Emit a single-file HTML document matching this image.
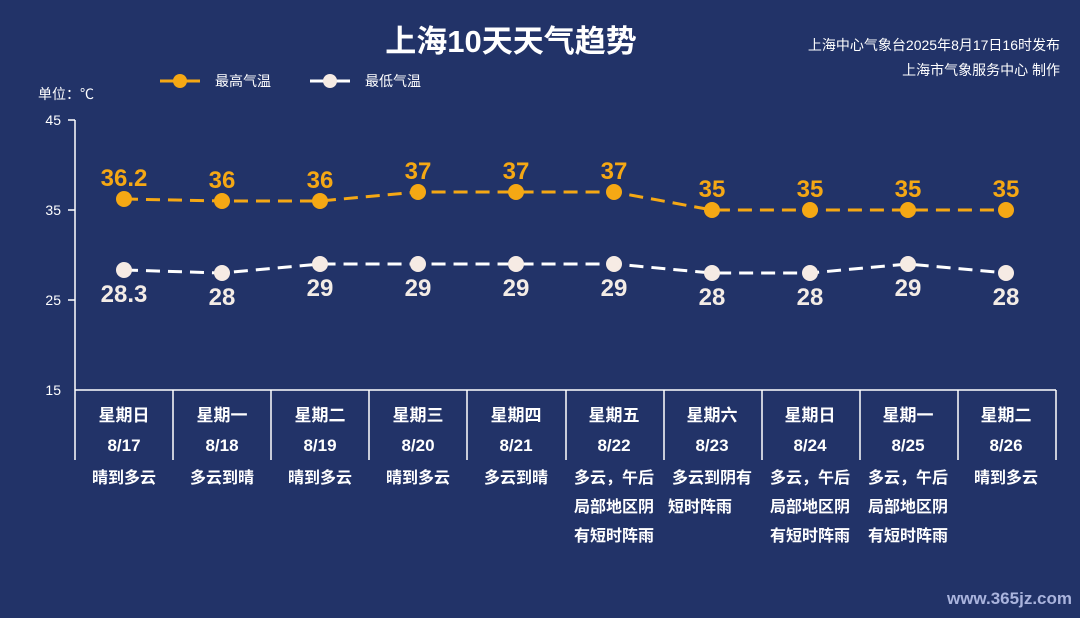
<!DOCTYPE html>
<html><head><meta charset="utf-8"><style>
body{margin:0;background:#223368;}
svg text{font-family:"Liberation Sans","Noto Sans CJK SC",sans-serif;}
</style></head><body>
<svg width="1080" height="613" viewBox="0 0 1080 613" xmlns="http://www.w3.org/2000/svg">
<rect width="1080" height="613" fill="#223368"/>
<text x="511" y="52" fill="#fff" font-size="31" font-weight="bold" text-anchor="middle">上海10天天气趋势</text>
<text x="1060" y="50" fill="#fff" font-size="14" text-anchor="end">上海中心气象台2025年8月17日16时发布</text>
<text x="1060" y="75" fill="#fff" font-size="14" text-anchor="end">上海市气象服务中心 制作</text>
<line x1="160" y1="81" x2="200" y2="81" stroke="#f5a814" stroke-width="3"/><circle cx="180" cy="81" r="7" fill="#f5a814"/>
<text x="215" y="86" fill="#fff" font-size="14">最高气温</text>
<line x1="310" y1="81" x2="350" y2="81" stroke="#fff" stroke-width="3"/><circle cx="330" cy="81" r="7" fill="#f6ebe4"/>
<text x="365" y="86" fill="#fff" font-size="14">最低气温</text>
<text x="38" y="99" fill="#fff" font-size="14">单位：℃</text>
<g stroke="#fff" stroke-width="1.5">
<line x1="75" y1="120" x2="75" y2="460"/>
<line x1="68" y1="120" x2="75" y2="120"/><line x1="68" y1="210" x2="75" y2="210"/><line x1="68" y1="300" x2="75" y2="300"/>
<line x1="75" y1="390" x2="1056" y2="390"/>
<line x1="173" y1="390" x2="173" y2="460"/><line x1="271" y1="390" x2="271" y2="460"/><line x1="369" y1="390" x2="369" y2="460"/><line x1="467" y1="390" x2="467" y2="460"/><line x1="566" y1="390" x2="566" y2="460"/><line x1="664" y1="390" x2="664" y2="460"/><line x1="762" y1="390" x2="762" y2="460"/><line x1="860" y1="390" x2="860" y2="460"/><line x1="958" y1="390" x2="958" y2="460"/><line x1="1056" y1="390" x2="1056" y2="460"/>
</g>
<g fill="#fff" font-size="14" text-anchor="end"><text x="61" y="125">45</text><text x="61" y="215">35</text><text x="61" y="305">25</text><text x="61" y="395">15</text></g>
<polyline points="124,199 222,201 320,201 418,192 516,192 614,192 712,210 810,210 908,210 1006,210" fill="none" stroke="#f5a814" stroke-width="3" stroke-dasharray="14,8"/>
<polyline points="124,270 222,273 320,264 418,264 516,264 614,264 712,273 810,273 908,264 1006,273" fill="none" stroke="#fff" stroke-width="3" stroke-dasharray="14,8"/>
<g fill="#f5a814">
<circle cx="124" cy="199" r="8"/><circle cx="222" cy="201" r="8"/><circle cx="320" cy="201" r="8"/><circle cx="418" cy="192" r="8"/><circle cx="516" cy="192" r="8"/><circle cx="614" cy="192" r="8"/><circle cx="712" cy="210" r="8"/><circle cx="810" cy="210" r="8"/><circle cx="908" cy="210" r="8"/><circle cx="1006" cy="210" r="8"/>
</g>
<g fill="#f6ebe4">
<circle cx="124" cy="270" r="8"/><circle cx="222" cy="273" r="8"/><circle cx="320" cy="264" r="8"/><circle cx="418" cy="264" r="8"/><circle cx="516" cy="264" r="8"/><circle cx="614" cy="264" r="8"/><circle cx="712" cy="273" r="8"/><circle cx="810" cy="273" r="8"/><circle cx="908" cy="264" r="8"/><circle cx="1006" cy="273" r="8"/>
</g>
<g fill="#f5a814" font-size="24" font-weight="bold" text-anchor="middle">
<text x="124" y="186">36.2</text><text x="222" y="188">36</text><text x="320" y="188">36</text><text x="418" y="179">37</text><text x="516" y="179">37</text><text x="614" y="179">37</text><text x="712" y="197">35</text><text x="810" y="197">35</text><text x="908" y="197">35</text><text x="1006" y="197">35</text>
</g>
<g fill="#f3ece6" font-size="24" font-weight="bold" text-anchor="middle">
<text x="124" y="302">28.3</text><text x="222" y="305">28</text><text x="320" y="296">29</text><text x="418" y="296">29</text><text x="516" y="296">29</text><text x="614" y="296">29</text><text x="712" y="305">28</text><text x="810" y="305">28</text><text x="908" y="296">29</text><text x="1006" y="305">28</text>
</g>
<g fill="#fff" font-size="17" font-weight="bold" text-anchor="middle">
<text x="124" y="421">星期日</text><text x="222" y="421">星期一</text><text x="320" y="421">星期二</text><text x="418" y="421">星期三</text><text x="516" y="421">星期四</text><text x="614" y="421">星期五</text><text x="712" y="421">星期六</text><text x="810" y="421">星期日</text><text x="908" y="421">星期一</text><text x="1006" y="421">星期二</text>
<text x="124" y="451">8/17</text><text x="222" y="451">8/18</text><text x="320" y="451">8/19</text><text x="418" y="451">8/20</text><text x="516" y="451">8/21</text><text x="614" y="451">8/22</text><text x="712" y="451">8/23</text><text x="810" y="451">8/24</text><text x="908" y="451">8/25</text><text x="1006" y="451">8/26</text>
</g>
<g fill="#fff" font-size="16" font-weight="bold" text-anchor="middle">
<text x="124" y="483">晴到多云</text><text x="222" y="483">多云到晴</text><text x="320" y="483">晴到多云</text><text x="418" y="483">晴到多云</text><text x="516" y="483">多云到晴</text>
<text x="614" y="483">多云，午后</text><text x="614" y="512">局部地区阴</text><text x="614" y="541">有短时阵雨</text>
<text x="712" y="483">多云到阴有</text><text x="700" y="512">短时阵雨</text>
<text x="810" y="483">多云，午后</text><text x="810" y="512">局部地区阴</text><text x="810" y="541">有短时阵雨</text>
<text x="908" y="483">多云，午后</text><text x="908" y="512">局部地区阴</text><text x="908" y="541">有短时阵雨</text>
<text x="1006" y="483">晴到多云</text>
</g>
<text x="1072" y="604" fill="#aab4dd" font-size="17" font-weight="bold" text-anchor="end">www.365jz.com</text>
</svg>
</body></html>
